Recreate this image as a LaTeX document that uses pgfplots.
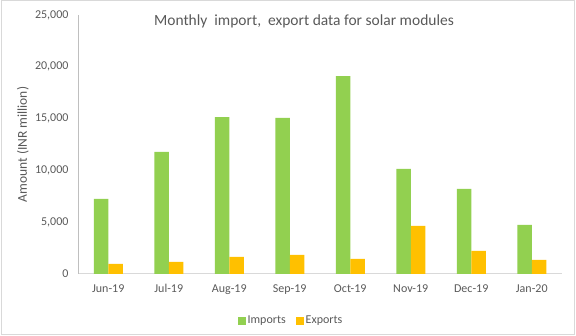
\documentclass[border=0pt]{standalone}
\usepackage{pgfplots}
\pgfplotsset{compat=1.18}
\usepackage{fontspec}
\setmainfont{Carlito}
\definecolor{impc}{HTML}{92D050}
\definecolor{expc}{HTML}{FFC000}
\definecolor{txt}{HTML}{595959}
\definecolor{axc}{HTML}{D9D9D9}
\definecolor{yaxc}{HTML}{BFBFBF}
\begin{document}
\begin{tikzpicture}[x=1pt,y=1pt]
\path (0,0) rectangle (576,336);
\draw[axc, line width=1pt] (1,1) rectangle (574,335);
\begin{axis}[
  at={(78pt,62pt)}, anchor=south west,
  scale only axis, width=484pt, height=259pt,
  xmin=-0.5, xmax=7.5, ymin=0, ymax=25000,
  xtick={0,...,7},
  xticklabels={Jun-19,Jul-19,Aug-19,Sep-19,Oct-19,Nov-19,Dec-19,Jan-20},
  ytick={0,5000,10000,15000,20000,25000},
  scaled y ticks=false,
  /pgf/number format/.cd, 1000 sep={,}, assume math mode=true, /pgfplots/.cd,
  major tick length=0pt,
  axis x line*=bottom, axis y line*=left,
  x axis line style={axc, line width=1pt, -},
  y axis line style={yaxc, line width=0.8pt, -},
  tick label style={font=\fontsize{12}{14}\selectfont, text=txt},
  yticklabel style={xshift=-6pt},
  xticklabel style={yshift=-7pt},
  ylabel={Amount (INR million)},
  ylabel style={at={(axis description cs:-0.114,0.5)}, anchor=center, font=\fontsize{13.5}{16}\selectfont, text=txt},
  title={Monthly\ \ import,\ \ export data for solar modules},
  title style={at={(axis description cs:0.467,0.951)}, anchor=center, font=\fontsize{15.5}{18}\selectfont, text=txt},
  legend style={at={(axis description cs:0.44,-0.181)}, anchor=center, draw=none, fill=none,
    legend columns=2, font=\fontsize{12}{14}\selectfont, text=txt,
    /tikz/every even column/.append style={column sep=8pt}},
  legend image code/.code={\fill[#1] (0pt,-4pt) rectangle (8pt,4pt);},
]
\addplot[ybar, bar width=14.5pt, bar shift=-7.25pt, fill=impc, draw=none] coordinates {
(0,7250) (1,11780) (2,15150) (3,15060) (4,19100) (5,10150) (6,8220) (7,4750)};
\addlegendentry{Imports}
\addplot[ybar, bar width=14.5pt, bar shift=7.25pt, fill=expc, draw=none] coordinates {
(0,980) (1,1170) (2,1650) (3,1840) (4,1450) (5,4640) (6,2220) (7,1360)};
\addlegendentry{Exports}
\end{axis}
\end{tikzpicture}
\end{document}
